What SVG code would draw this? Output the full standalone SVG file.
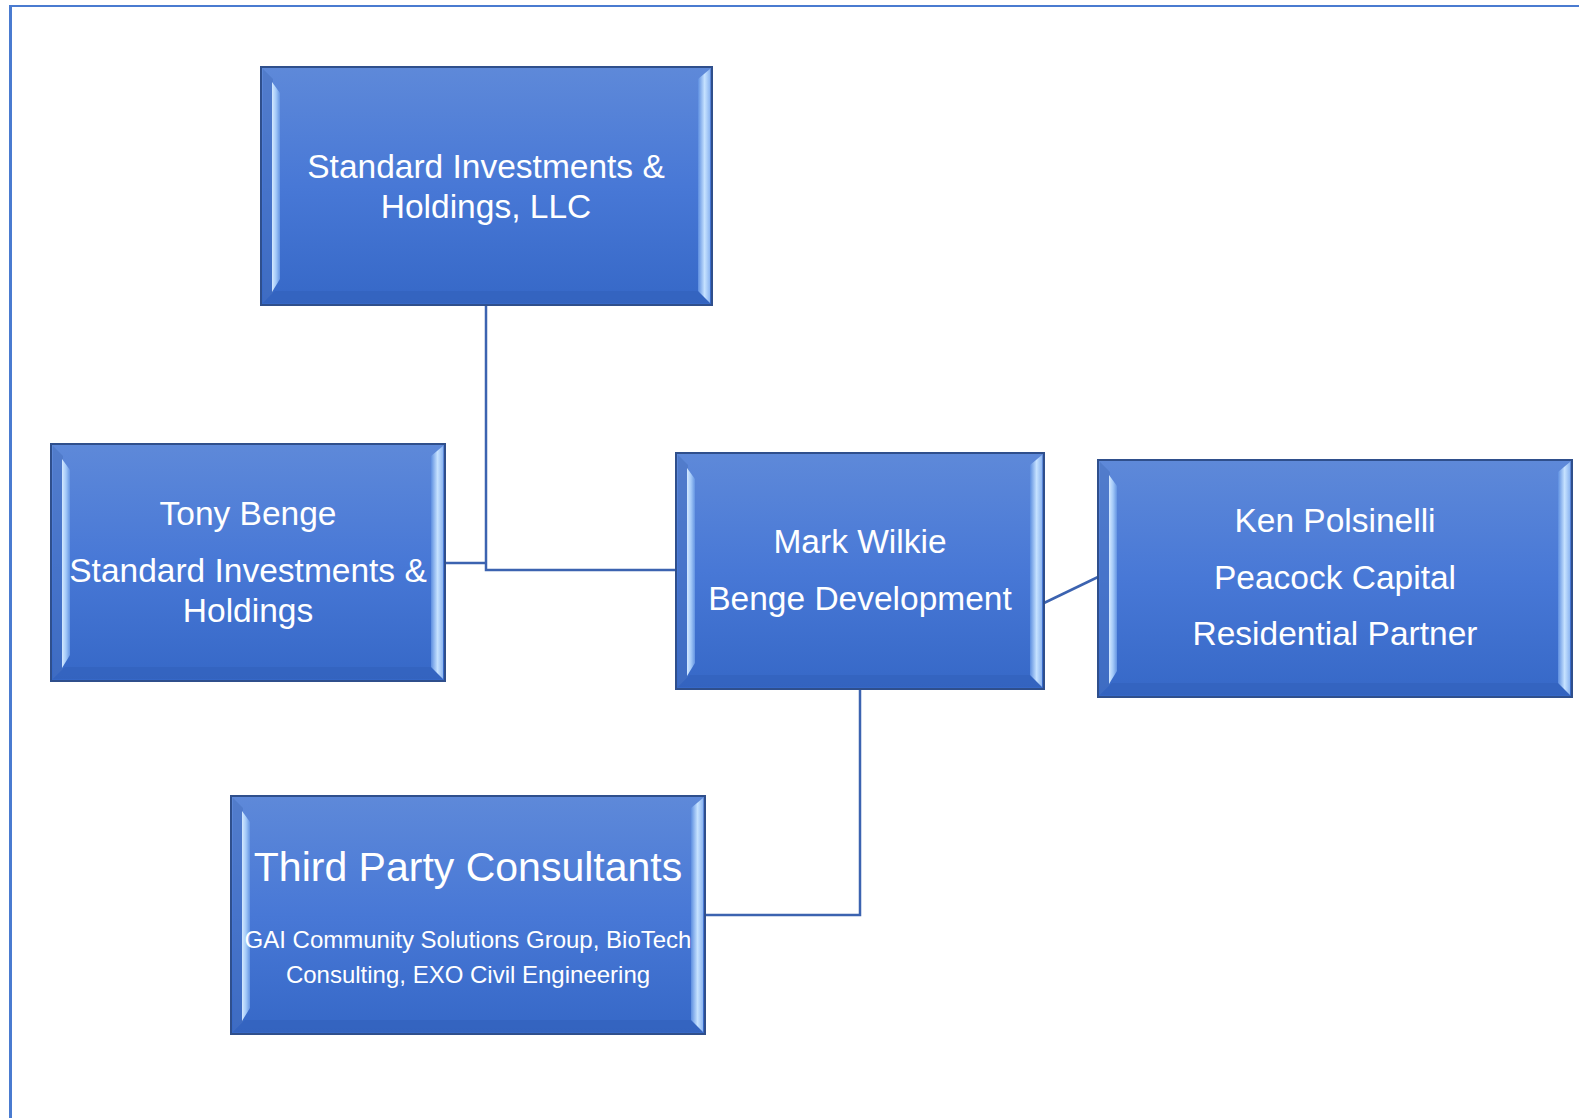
<svg xmlns="http://www.w3.org/2000/svg" width="1579" height="1118" viewBox="0 0 1579 1118">
  <style>
    .box { fill: url(#boxFill); stroke: #2f4f8c; stroke-width: 2; }
    .lband { fill: #4670bd; opacity: 0.5; }
    .bband { fill: #2f5cb5; opacity: 0.4; }
    .lstrip { fill: url(#lStrip); }
    .rstrip { fill: url(#rStrip); }
    .conn { fill: none; stroke: #3c63b0; stroke-width: 2.5; }
    text { font-family: "Liberation Sans", Arial, sans-serif; fill: #ffffff; text-anchor: middle; }
    .t { font-size: 33.5px; }
    .big { font-size: 41px; }
    .small { font-size: 24px; }
  </style>
  <defs>
    <linearGradient id="boxFill" x1="0" y1="0" x2="0" y2="1">
      <stop offset="0" stop-color="#5e89d9"/>
      <stop offset="0.5" stop-color="#4878d6"/>
      <stop offset="1" stop-color="#3668c7"/>
    </linearGradient>
    <linearGradient id="lStrip" x1="0" y1="0" x2="1" y2="0">
      <stop offset="0" stop-color="#d4e9ff"/>
      <stop offset="0.5" stop-color="#a3c9f8"/>
      <stop offset="1" stop-color="#6494e2"/>
    </linearGradient>
    <linearGradient id="rStrip" x1="0" y1="0" x2="1" y2="0">
      <stop offset="0" stop-color="#5d8ee0"/>
      <stop offset="0.55" stop-color="#c6e2ff"/>
      <stop offset="1" stop-color="#8db6f1"/>
    </linearGradient>
  </defs>

  <rect width="1579" height="1118" fill="#ffffff"/>
  <g id="frame">
    <path d="M10.5,1118 V6.5" stroke="#4a7bd0" stroke-width="3" fill="none"/>
    <path d="M9,6 H1579" stroke="#4a7bd0" stroke-width="2" fill="none"/>
  </g>

  <g id="connectors">
    <polyline class="conn" points="486,305 486,570 676,570"/>
    <polyline class="conn" points="445,563 486,563"/>
    <line class="conn" x1="1044" y1="603" x2="1098" y2="577"/>
    <polyline class="conn" points="860,689 860,915 705,915"/>
  </g>

  <g id="node-standard">
    <rect class="box" x="261" y="67" width="451" height="238"/>
    <polygon class="lband" points="263,69 273,79 273,293 263,303"/>
    <polygon class="bband" points="263,303 710,303 698,291 275,291"/>
    <polygon class="lstrip" points="272,82 280,93 280,279 272,292"/>
    <polygon class="rstrip" points="698,79 710,69 710,303 698,291"/>
    <text class="t" x="486" y="178">Standard Investments &amp;</text>
    <text class="t" x="486" y="218">Holdings, LLC</text>
  </g>

  <g id="node-tony">
    <rect class="box" x="51" y="444" width="394" height="237"/>
    <polygon class="lband" points="53,446 63,456 63,669 53,679"/>
    <polygon class="bband" points="53,679 443,679 431,667 65,667"/>
    <polygon class="lstrip" points="62,459 70,470 70,655 62,668"/>
    <polygon class="rstrip" points="431,456 443,446 443,679 431,667"/>
    <text class="t" x="248" y="525">Tony Benge</text>
    <text class="t" x="248" y="582">Standard Investments &amp;</text>
    <text class="t" x="248" y="622">Holdings</text>
  </g>

  <g id="node-mark">
    <rect class="box" x="676" y="453" width="368" height="236"/>
    <polygon class="lband" points="678,455 688,465 688,677 678,687"/>
    <polygon class="bband" points="678,687 1042,687 1030,675 690,675"/>
    <polygon class="lstrip" points="687,468 695,479 695,663 687,676"/>
    <polygon class="rstrip" points="1030,465 1042,455 1042,687 1030,675"/>
    <text class="t" x="860" y="553">Mark Wilkie</text>
    <text class="t" x="860" y="610">Benge Development</text>
  </g>

  <g id="node-ken">
    <rect class="box" x="1098" y="460" width="474" height="237"/>
    <polygon class="lband" points="1100,462 1110,472 1110,685 1100,695"/>
    <polygon class="bband" points="1100,695 1570,695 1558,683 1112,683"/>
    <polygon class="lstrip" points="1109,475 1117,486 1117,671 1109,684"/>
    <polygon class="rstrip" points="1558,472 1570,462 1570,695 1558,683"/>
    <text class="t" x="1335" y="532">Ken Polsinelli</text>
    <text class="t" x="1335" y="589">Peacock Capital</text>
    <text class="t" x="1335" y="645">Residential Partner</text>
  </g>

  <g id="node-third">
    <rect class="box" x="231" y="796" width="474" height="238"/>
    <polygon class="lband" points="233,798 243,808 243,1022 233,1032"/>
    <polygon class="bband" points="233,1032 703,1032 691,1020 245,1020"/>
    <polygon class="lstrip" points="242,811 250,822 250,1008 242,1021"/>
    <polygon class="rstrip" points="691,808 703,798 703,1032 691,1020"/>
    <text class="big" x="468" y="881">Third Party Consultants</text>
    <text class="small" x="468" y="948">GAI Community Solutions Group, BioTech</text>
    <text class="small" x="468" y="983">Consulting, EXO Civil Engineering</text>
  </g>
</svg>
